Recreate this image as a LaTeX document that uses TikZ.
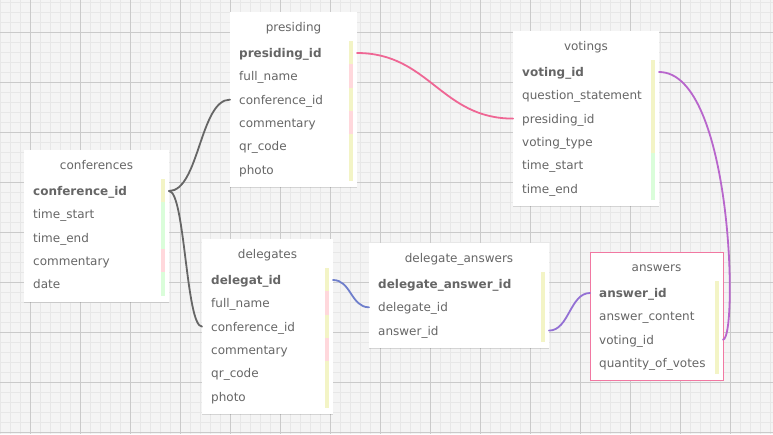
\documentclass[tikz,border=0pt]{standalone}
\usepackage{fontspec}
\setmainfont{DejaVu Sans}
\usetikzlibrary{shadows,calc}
\definecolor{bg}{HTML}{F4F4F4}
\definecolor{gminor}{HTML}{E7E7E7}
\definecolor{gmajor}{HTML}{CACACA}
\definecolor{txt}{HTML}{666666}
\definecolor{cy}{HTML}{F3F4C6}
\definecolor{cp}{HTML}{FFD8DC}
\definecolor{cg}{HTML}{DAFDDA}
\definecolor{lgray}{HTML}{666666}
\definecolor{lpink}{HTML}{EF6694}
\definecolor{bpink}{HTML}{F178A2}
\definecolor{lblue}{HTML}{6F7FCC}
\definecolor{lpurple}{HTML}{9370D4}
\definecolor{lmagenta}{HTML}{B866CC}
\tikzset{
  tablebox/.style={fill=white,draw=none,inner sep=0pt,outer sep=0pt,
    drop shadow={shadow xshift=0pt,shadow yshift=-1.2pt,opacity=0.13,fill=black}},
  pinkborder/.style={draw=bpink,line width=1pt},
  titletext/.style={text=txt,font=\fontsize{12}{14}\selectfont,inner sep=0pt},
  rowtext/.style={text=txt,font=\fontsize{12}{14}\selectfont,inner sep=0pt,
    text height=12pt,text depth=3pt},
  link/.style={line width=1.8pt,line cap=round},
}
\newcommand{\erTable}[8][]{%
  \node[tablebox,#1,minimum width=#5pt,minimum height={(35+23.3*#6)*1pt},anchor=north west] (#2) at (#3,#4) {};
  \node[titletext,anchor=base] (#2-title) at ({#3+#5/2},{#4+19}) {#7};
  \foreach \lbl/\col [count=\i] in {#8}{
    \fill[\col] ({#3+#5-8},{#4+29+23.3*(\i-1)}) rectangle ++(4,23.3);
    \node[rowtext,anchor=west] (#2-\i) at ({#3+9},{#4+41+23.3*(\i-1)}) {\lbl};
  }%
}
\begin{document}
\begin{tikzpicture}[x=1pt,y=-1pt]
\useasboundingbox (0,0) rectangle (773,434);
\fill[bg] (0,0) rectangle (773,434);
\foreach \x in {0,10,...,770} \draw[gminor,line width=1pt] (\x+0.5,0) -- (\x+0.5,434);
\foreach \y in {2,12,...,432} \draw[gminor,line width=1pt] (0,\y+0.5) -- (773,\y+0.5);
\foreach \x in {30,80,...,730} \draw[gmajor,line width=1pt] (\x+0.5,0) -- (\x+0.5,434);
\foreach \y in {32,82,...,432} \draw[gmajor,line width=1pt] (0,\y+0.5) -- (773,\y+0.5);

\erTable{conf}{24}{150}{145}{5}{conferences}{%
  {\bfseries conference\_id}/cy, time\_start/cg, time\_end/cg, commentary/cp, date/cg}
\erTable{pres}{230}{12}{127}{6}{presiding}{%
  {\bfseries presiding\_id}/cy, full\_name/cp, conference\_id/cy, commentary/cp, qr\_code/cy, photo/cy}
\erTable{vot}{513}{31}{146}{6}{votings}{%
  {\bfseries voting\_id}/cy, question\_statement/cy, presiding\_id/cy, voting\_type/cy, time\_start/cg, time\_end/cg}
\erTable{dele}{202}{239}{131}{6}{delegates}{%
  {\bfseries delegat\_id}/cy, full\_name/cp, conference\_id/cy, commentary/cp, qr\_code/cy, photo/cy}
\erTable{da}{369}{243}{180}{3}{delegate\_answers}{%
  {\bfseries delegate\_answer\_id}/cy, delegate\_id/cy, answer\_id/cy}
\erTable[pinkborder]{ans}{590}{252}{133}{4}{answers}{%
  {\bfseries answer\_id}/cy, answer\_content/cy, voting\_id/cy, quantity\_of\_votes/cy}

\draw[link,lgray] (conf.east |- conf-1) .. controls +(30,0) and +(-30,0) .. (pres.west |- pres-3);
\draw[link,lgray] (conf.east |- conf-1) .. controls +(16,0) and +(-16,0) .. (dele.west |- dele-3);
\draw[link,lpink] (pres.east |- pres-1) .. controls +(72,0) and +(-72,0) .. (vot.west |- vot-3);
\draw[link,lblue] (dele.east |- dele-1) .. controls +(18,0) and +(-18,0) .. (da.west |- da-2);
\draw[link,lpurple] (da.east |- da-3) .. controls +(20,0) and +(-20,0) .. (ans.west |- ans-1);
\draw[link,lmagenta] (vot.east |- vot-1) .. controls +(74,0) and +(15,0) .. (ans.east |- ans-3);
\end{tikzpicture}
\end{document}
